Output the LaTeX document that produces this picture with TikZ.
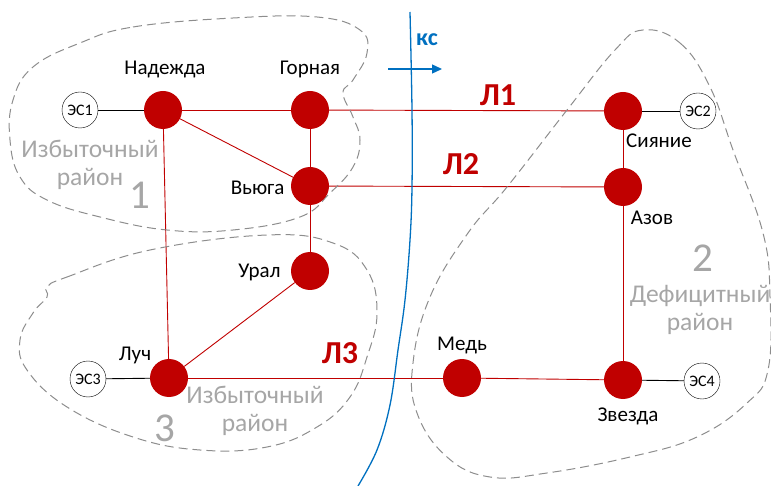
\documentclass[tikz,border=0pt]{standalone}
\usepackage{fontspec}
\setmainfont{Carlito}
\usepackage{xcolor}
\usetikzlibrary{positioning,arrows.meta,backgrounds}
\definecolor{subred}{RGB}{192,0,0}
\definecolor{ksblue}{RGB}{0,112,192}
\definecolor{zonegray}{RGB}{166,166,166}

\begin{document}
\begin{tikzpicture}[x=1pt,y=-1pt]
            \tikzset{
                sub/.style={
                    circle,
                    fill=subred,
                    minimum size=38pt,
                    inner sep=0pt
                }
            }
            \tikzset{
                gen/.style={
                    circle,
                    draw,
                    fill=white,
                    thin,
                    minimum size=36pt,
                    inner sep=0pt,
                    font=\fontsize{16}{18}\selectfont
                }
            }
            \tikzset{
                stname/.style={
                    font=\fontsize{21}{23}\selectfont
                }
            }
            \tikzset{
                line/.style={
                    subred,
                    line width=0.9pt
                }
            }
            \tikzset{
                link/.style={
                    black,
                    line width=0.9pt
                }
            }
            \tikzset{
                zone/.style={
                    zonegray!85!black,
                    dash pattern=on 9pt off 5pt,
                    line width=1pt
                }
            }
            \tikzset{
                zonetext/.style={
                    zonegray,
                    align=center,
                    font=\fontsize{25.5}{28}\selectfont
                }
            }
            \tikzset{
                zonenum/.style={
                    zonegray,
                    font=\fontsize{41}{42}\selectfont
                }
            }
            \tikzset{
                lname/.style={
                    subred,
                    font=\bfseries\fontsize{32}{34}\selectfont
                }
            }
            \useasboundingbox (0,0) rectangle (771,486);

            % districts
            \draw[zone] plot[smooth cycle,tension=0.7] coordinates {(80,43) (133,27) (233,18) (317,17) (360,30) (367,53) (353,80) (343,93) (353,117) (360,140) (353,167) (330,193) (300,217) (233,230) (167,230) (100,217) (47,200) (20,177) (10,140) (13,100) (33,67)};
            \draw[zone] plot[smooth cycle,tension=0.7] coordinates {(47,287) (67,277) (150,250) (267,235) (333,243) (367,270) (377,313) (367,357) (350,397) (317,427) (267,447) (200,450) (133,437) (67,407) (27,370) (20,340) (33,313) (47,297)};
            \draw[zone] plot[smooth cycle,tension=0.7] coordinates {(643,30) (680,43) (710,87) (733,150) (763,233) (770,297) (768,370) (747,403) (697,437) (630,457) (547,473) (490,477) (447,457) (417,413) (413,363) (430,297) (468,233) (507,187) (567,110) (615,50)};

            \node[zonetext] (t1) at (90,165) {Избыточный\\район};
            \node[zonenum] (n1) at (140,195) {1};
            \node[zonetext] (t2) at (700,310) {Дефицитный\\район};
            \node[zonenum] (n2) at (703,258) {2};
            \node[zonetext] (t3) at (255,411) {Избыточный\\район};
            \node[zonenum] (n3) at (165,428) {3};

            % cut
            \draw[ksblue,line width=1.3pt] plot[smooth,tension=0.6] coordinates {(410,12) (412,110) (412,187) (410,240) (405,300) (398,350) (390,405) (377,450) (358,486)};
            \coordinate (ka) at (388,69);
            \coordinate (kb) at (442,69);
            \draw[ksblue,line width=1.3pt,-{Triangle[length=10pt,width=9pt]}] (ka) -- (kb);
            \node[ksblue,font=\bfseries\fontsize{24}{26}\selectfont] (ks) at (427,40) {кс};

            % substations
            \node[sub] (nad) at (163,110) {};
            \node[sub] (gor) at (310,110) {};
            \node[sub] (vyu) at (310,186) {};
            \node[sub] (ural) at (310,271) {};
            \node[sub] (luch) at (169,378) {};
            \node[sub] (med) at (462,378) {};
            \node[sub] (zve) at (623,380) {};
            \node[sub] (siya) at (623,111) {};
            \node[sub] (azov) at (623,187) {};

            \node[gen] (es1) at (80,110) {ЭС1};
            \node[gen] (es2) at (698,111) {ЭС2};
            \node[gen] (es3) at (88,379) {ЭС3};
            \node[gen] (es4) at (702,381) {ЭС4};

            \node[stname] (lnad) at (165,69) {Надежда};
            \node[stname] (lgor) at (310,69) {Горная};
            \node[stname,anchor=east] (lvyu) at (288,188) {Вьюга};
            \node[stname,anchor=east] (lural) at (284,272) {Урал};
            \node[stname] (lluch) at (135,355) {Луч};
            \node[stname] (lmed) at (462,345) {Медь};
            \node[stname] (lzve) at (628,416) {Звезда};
            \node[stname] (lsiya) at (659,141) {Сияние};
            \node[stname] (lazov) at (652,218) {Азов};

            \node[lname] (l1) at (498,95) {Л1};
            \node[lname] (l2) at (461,164) {Л2};
            \node[lname] (l3) at (340,353) {Л3};

            \begin{scope}[on background layer]
            \draw[link] (es1) -- (nad);
            \draw[link] (es2) -- (siya);
            \draw[link] (es3) -- (luch);
            \draw[link] (es4) -- (zve);

            \draw[line] (nad) -- (gor);
            \draw[line] (gor) -- (siya);
            \draw[line] (nad) -- (vyu);
            \draw[line] (nad) -- (luch);
            \draw[line] (gor) -- (vyu);
            \draw[line] (vyu) -- (azov);
            \draw[line] (vyu) -- (ural);
            \draw[line] (ural) -- (luch);
            \draw[line] (luch) -- (med);
            \draw[line] (med) -- (zve);
            \draw[line] (siya) -- (azov);
            \draw[line] (azov) -- (zve);
            \end{scope}
\end{tikzpicture}
\end{document}
